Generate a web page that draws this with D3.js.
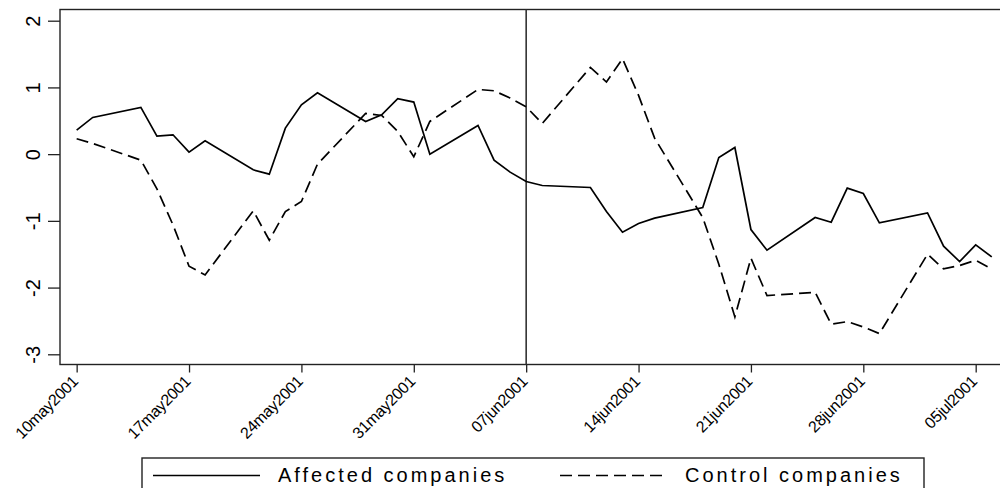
<!DOCTYPE html>
<html>
<head>
<meta charset="utf-8">
<script src="https://cdn.jsdelivr.net/npm/d3@7"></script>
<style>
  html, body { margin: 0; padding: 0; background: #fff; }
  svg { display: block; font-family: "Liberation Sans", Arial, Helvetica, sans-serif; }
</style>
</head>
<body>
<svg id="chart" width="1000" height="488"></svg>
<script>
// Trading days, 10 May – 6 July 2001
const dates = [
  "2001-05-10","2001-05-11","2001-05-14","2001-05-15","2001-05-16","2001-05-17","2001-05-18",
  "2001-05-21","2001-05-22","2001-05-23","2001-05-24","2001-05-25",
  "2001-05-28","2001-05-29","2001-05-30","2001-05-31","2001-06-01",
  "2001-06-04","2001-06-05","2001-06-06","2001-06-07","2001-06-08",
  "2001-06-11","2001-06-12","2001-06-13","2001-06-14","2001-06-15",
  "2001-06-18","2001-06-19","2001-06-20","2001-06-21","2001-06-22",
  "2001-06-25","2001-06-26","2001-06-27","2001-06-28","2001-06-29",
  "2001-07-02","2001-07-03","2001-07-04","2001-07-05","2001-07-06"
];

const affected = [
  0.36, 0.55, 0.70, 0.27, 0.29, 0.03, 0.20,
  -0.235, -0.30, 0.39, 0.74, 0.92,
  0.49, 0.59, 0.83, 0.78, 0.00,
  0.43, -0.09, -0.27, -0.41, -0.47,
  -0.50, -0.86, -1.17, -1.04, -0.96,
  -0.80, -0.05, 0.10, -1.13, -1.44,
  -0.95, -1.02, -0.51, -0.59, -1.03,
  -0.88, -1.38, -1.61, -1.36, -1.54
];

const control = [
  0.23, 0.16, -0.09, -0.52, -1.06, -1.68, -1.81,
  -0.85, -1.29, -0.86, -0.71, -0.15,
  0.61, 0.58, 0.34, -0.04, 0.49,
  0.97, 0.95, 0.84, 0.71, 0.46,
  1.30, 1.08, 1.43, 0.88, 0.24,
  -0.95, -1.65, -2.44, -1.56, -2.12,
  -2.07, -2.55, -2.51, -2.59, -2.69,
  -1.50, -1.72, -1.67, -1.59, -1.72
];

const xTickDates = ["2001-05-10","2001-05-17","2001-05-24","2001-05-31","2001-06-07",
                    "2001-06-14","2001-06-21","2001-06-28","2001-07-05"];
const xTickLabels = ["10may2001","17may2001","24may2001","31may2001","07jun2001",
                     "14jun2001","21jun2001","28jun2001","05jul2001"];
const yTicks = [-3, -2, -1, 0, 1, 2];
const eventDate = "2001-06-07";
const seriesNames = ["Affected companies", "Control companies"];

const parse = d3.utcParse("%Y-%m-%d");
const svg = d3.select("#chart");

// plot region
const frame = { left: 60, top: 9.5, right: 1008, bottom: 364.5 };

const x = d3.scaleUtc()
  .domain([parse("2001-05-09"), parse("2001-07-07")])
  .range([60.6, 1007.8]);

const y = d3.scaleLinear()
  .domain([-3, 2])
  .range([354.3, 20.7]);

const ink = "#222";

// frame
svg.append("rect")
  .attr("x", frame.left).attr("y", frame.top)
  .attr("width", frame.right - frame.left)
  .attr("height", frame.bottom - frame.top)
  .attr("fill", "none").attr("stroke", ink).attr("stroke-width", 1.4);

// y axis
const yAxis = svg.append("g")
  .attr("transform", `translate(${frame.left},0)`)
  .call(d3.axisLeft(y).tickValues(yTicks).tickSize(12).tickPadding(0).tickFormat(d3.format("d")));
yAxis.select(".domain").remove();
yAxis.selectAll(".tick line").attr("stroke", ink).attr("stroke-width", 1.3);
yAxis.selectAll(".tick text")
  .attr("x", null).attr("dy", null)
  .attr("text-anchor", "middle")
  .attr("transform", "translate(-27,0) rotate(-90)")
  .attr("dy", "0.36em")
  .attr("font-size", 20)
  .attr("fill", "#000")
  .text(d => d < 0 ? "-" + Math.abs(d) : d);

// x axis
const xAxis = svg.append("g")
  .attr("transform", `translate(0,${frame.bottom})`)
  .call(d3.axisBottom(x)
    .tickValues(xTickDates.map(parse))
    .tickSize(8).tickPadding(0)
    .tickFormat((d, i) => xTickLabels[i]));
xAxis.select(".domain").remove();
xAxis.selectAll(".tick line").attr("stroke", ink).attr("stroke-width", 1.3);
xAxis.selectAll(".tick text")
  .attr("y", null).attr("dy", null)
  .attr("text-anchor", "end")
  .attr("transform", "translate(-2,14) rotate(-45)")
  .attr("dy", "0.35em")
  .attr("font-size", 16)
  .attr("letter-spacing", -0.3)
  .attr("fill", "#000");

// event marker
svg.append("line")
  .attr("x1", x(parse(eventDate))).attr("x2", x(parse(eventDate)))
  .attr("y1", frame.top).attr("y2", frame.bottom)
  .attr("stroke", "#333").attr("stroke-width", 1.6);

// series
const line = d3.line()
  .x((d, i) => x(parse(dates[i])))
  .y(d => y(d));

svg.append("path")
  .datum(affected)
  .attr("d", line)
  .attr("fill", "none").attr("stroke", "#000").attr("stroke-width", 1.7)
  .attr("stroke-linejoin", "miter");

svg.append("path")
  .datum(control)
  .attr("d", line)
  .attr("fill", "none").attr("stroke", "#000").attr("stroke-width", 1.7)
  .attr("stroke-dasharray", "12,6");

// legend
const legend = svg.append("g");
legend.append("rect")
  .attr("x", 142).attr("y", 458).attr("width", 782).attr("height", 40)
  .attr("fill", "#fff").attr("stroke", ink).attr("stroke-width", 1.4);

const legendItems = [
  { name: seriesNames[0], x0: 153, dash: null, tx: 278 },
  { name: seriesNames[1], x0: 560, dash: "12,6", tx: 685 }
];
legendItems.forEach(it => {
  legend.append("line")
    .attr("x1", it.x0).attr("x2", it.x0 + 107)
    .attr("y1", 475.5).attr("y2", 475.5)
    .attr("stroke", "#000").attr("stroke-width", 1.7)
    .attr("stroke-dasharray", it.dash);
  legend.append("text")
    .attr("x", it.tx).attr("y", 482)
    .attr("font-size", 20)
    .attr("letter-spacing", 3)
    .attr("fill", "#000")
    .text(it.name);
});
</script>
</body>
</html>
